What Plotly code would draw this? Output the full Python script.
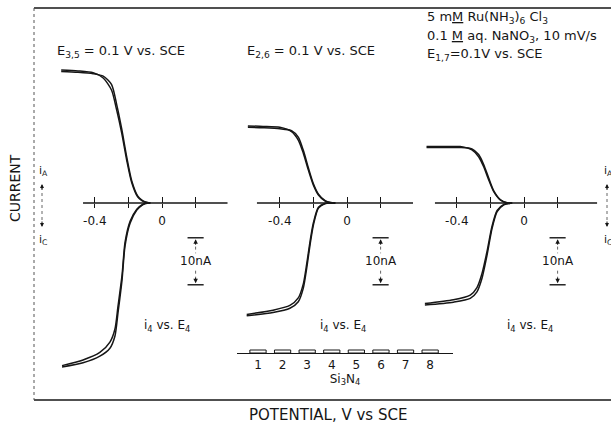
import plotly.graph_objects as go

W, H = 611, 426
FONT = "DejaVu Sans"
INK = "#161616"

# Generator voltammograms (i4 vs E4): potential in V vs SCE, current in nA.
# Each branch carries two sweeps (forward / reverse).
P1_AN_E = [-0.60, -0.50, -0.41, -0.35, -0.30, -0.27, -0.24, -0.21, -0.18, -0.145, -0.12, -0.10, -0.07]
P1_AN_I_FWD = [28.3, 28.1, 27.7, 26.6, 24.0, 19.8, 14.9, 9.1, 4.3, 1.3, 0.5, 0.2, 0.0]
P1_AN_I_REV = [28.0, 27.8, 27.5, 27.0, 25.2, 21.0, 15.8, 9.8, 4.7, 1.5, 0.6, 0.2, 0.0]
P1_CA_E = [-0.595, -0.47, -0.37, -0.31, -0.28, -0.262, -0.238, -0.22, -0.19, -0.15, -0.12, -0.10, -0.07]
P1_CA_I_FWD = [-34.9, -34.0, -32.6, -30.9, -28.3, -23.4, -16.4, -9.1, -4.3, -1.5, -0.5, -0.1, 0.0]
P1_CA_I_REV = [-34.6, -33.4, -31.8, -29.6, -26.8, -22.0, -15.4, -8.4, -3.9, -1.3, -0.4, -0.1, 0.0]

P2_AN_E = [-0.59, -0.50, -0.40, -0.33, -0.29, -0.26, -0.23, -0.20, -0.17, -0.13, -0.10, -0.07]
P2_AN_I_FWD = [16.4, 16.3, 16.1, 15.2, 13.4, 10.6, 7.0, 3.8, 1.7, 0.4, 0.1, 0.0]
P2_AN_I_REV = [16.1, 16.0, 15.8, 15.4, 14.0, 11.2, 7.5, 4.1, 1.9, 0.5, 0.1, 0.0]
P2_CA_E = [-0.597, -0.44, -0.34, -0.29, -0.26, -0.24, -0.22, -0.20, -0.17, -0.13, -0.10, -0.07]
P2_CA_I_FWD = [-24.0, -23.3, -22.4, -21.0, -18.1, -13.9, -8.9, -4.7, -1.1, -0.1, 0.0, 0.0]
P2_CA_I_REV = [-23.7, -22.8, -21.8, -20.2, -17.2, -13.0, -8.2, -4.2, -0.9, -0.1, 0.0, 0.0]

P3_AN_E = [-0.58, -0.48, -0.38, -0.31, -0.27, -0.24, -0.21, -0.18, -0.14, -0.10, -0.07]
P3_AN_I_FWD = [12.0, 12.0, 12.0, 11.3, 9.85, 7.7, 4.9, 2.4, 0.6, 0.0, 0.0]
P3_AN_I_REV = [11.8, 11.8, 11.8, 11.5, 10.3, 8.2, 5.3, 2.6, 0.7, 0.05, 0.0]
P3_CA_E = [-0.59, -0.42, -0.32, -0.28, -0.25, -0.22, -0.19, -0.16, -0.12, -0.08]
P3_CA_I_FWD = [-21.7, -21.1, -20.3, -18.9, -16.0, -11.1, -5.4, -1.85, -0.4, -0.06]
P3_CA_I_REV = [-21.4, -20.6, -19.6, -18.0, -15.0, -10.3, -4.9, -1.6, -0.3, -0.05]

PANEL_LABELS = ["E<sub>3,5</sub> = 0.1 V vs. SCE",
                "E<sub>2,6</sub> = 0.1 V vs. SCE",
                "E<sub>1,7</sub>=0.1V vs. SCE"]
CONDITIONS = ["5 m<u>M</u> Ru(NH<sub>3</sub>)<sub>6</sub> Cl<sub>3</sub>",
              "0.1 <u>M</u> aq. NaNO<sub>3</sub>, 10 mV/s"]
TICK_VALUES = [-0.4, -0.2, 0.0, 0.2]
TICK_TEXT = ["-0.4", "", "0", ""]
SCALE_NA = 10
SCALE_TOP_NA = -7.4
ELECTRODES = ["1", "2", "3", "4", "5", "6", "7", "8"]

PANELS = [
    (P1_AN_E, (P1_AN_I_FWD, P1_AN_I_REV), P1_CA_E, (P1_CA_I_FWD, P1_CA_I_REV)),
    (P2_AN_E, (P2_AN_I_FWD, P2_AN_I_REV), P2_CA_E, (P2_CA_I_FWD, P2_CA_I_REV)),
    (P3_AN_E, (P3_AN_I_FWD, P3_AN_I_REV), P3_CA_E, (P3_CA_I_FWD, P3_CA_I_REV)),
]

# ---- page geometry (pixels) ----
ZERO_PX = [162, 347, 524]                       # x pixel of E = 0 in each panel
DOMAIN_PX = [(55, 236), (240, 421), (423, 608)]
AXIS_SPAN = [(-0.47, 0.39), (-0.536, 0.393), (-0.53, 0.435)]
PX_PER_V = 168
ZERO_I_PX = 203                                 # y pixel of i = 0
PX_PER_NA = 4.7
LABEL_PX = [(55, 52), (245, 52), (425, 55)]
SUBTITLE_X = [0.03, -0.024, 0.036]


def fx(px):
    return px / W


def fy(py):
    return 1 - py / H


def paper_text(xp, yp, text, size=13, xanchor="center", **kw):
    return dict(x=fx(xp), y=fy(yp), xref="paper", yref="paper", text=text, showarrow=False,
                xanchor=xanchor, yanchor="middle", font=dict(size=size), **kw)


y_range = [-(H - ZERO_I_PX) / PX_PER_NA, ZERO_I_PX / PX_PER_NA]
axis_pos = fy(ZERO_I_PX)

fig = go.Figure()
layout_axes = {}
annotations = []

curve_line = dict(color=INK, width=1.5, shape="spline", smoothing=0.7)

for k, (an_e, an_i, ca_e, ca_i) in enumerate(PANELS):
    xa = "x" if k == 0 else f"x{k + 1}"
    xo = f"x{k + 4}"
    for e, sweeps in ((an_e, an_i), (ca_e, ca_i)):
        for i_vals in sweeps:
            fig.add_trace(go.Scatter(x=e, y=i_vals, mode="lines", line=curve_line,
                                     xaxis=xa, yaxis="y", hoverinfo="skip", showlegend=False))
    # zero-current potential axis
    fig.add_trace(go.Scatter(x=list(AXIS_SPAN[k]), y=[0, 0], mode="lines",
                             line=dict(color=INK, width=1.4),
                             xaxis=xo, yaxis="y", hoverinfo="skip", showlegend=False))
    # 10 nA scale bar
    bot = SCALE_TOP_NA - SCALE_NA
    fig.add_trace(go.Scatter(x=[0.152, 0.248, None, 0.152, 0.248],
                             y=[SCALE_TOP_NA, SCALE_TOP_NA, None, bot, bot],
                             mode="lines", line=dict(color=INK, width=1.4),
                             xaxis=xa, yaxis="y", hoverinfo="skip", showlegend=False))
    fig.add_trace(go.Scatter(x=[0.2, 0.2, None, 0.2, 0.2],
                             y=[SCALE_TOP_NA - 0.6, SCALE_TOP_NA - 3.3, None, bot + 3.0, bot + 0.6],
                             mode="lines", line=dict(color="#555", width=0.9, dash="dot"),
                             xaxis=xa, yaxis="y", hoverinfo="skip", showlegend=False))
    ref = xa
    annotations += [
        dict(x=0.2, y=SCALE_TOP_NA - 0.3, xref=ref, yref="y", text="", showarrow=True,
             ax=0, ay=7, arrowhead=2, arrowsize=0.9, arrowwidth=1, arrowcolor=INK),
        dict(x=0.2, y=bot + 0.3, xref=ref, yref="y", text="", showarrow=True,
             ax=0, ay=-7, arrowhead=2, arrowsize=0.9, arrowwidth=1, arrowcolor=INK),
        dict(x=0.2, y=SCALE_TOP_NA - SCALE_NA / 2, xref=ref, yref="y", yanchor="middle",
             text=f"{SCALE_NA}nA", showarrow=False, font=dict(size=12)),
        dict(x=SUBTITLE_X[k], y=(ZERO_I_PX - 326) / PX_PER_NA, xref=ref, yref="y",
             yanchor="middle", text="i<sub>4</sub> vs. E<sub>4</sub>", showarrow=False,
             font=dict(size=12)),
        paper_text(LABEL_PX[k][0], LABEL_PX[k][1], PANEL_LABELS[k], xanchor="left"),
    ]

    z = ZERO_PX[k]
    d0, d1 = DOMAIN_PX[k]
    rng = [(d0 - z) / PX_PER_V, (d1 - z) / PX_PER_V]
    name = "xaxis" if k == 0 else f"xaxis{k + 1}"
    layout_axes[name] = dict(domain=[fx(d0), fx(d1)], range=rng, anchor="free", position=axis_pos,
                             tickvals=TICK_VALUES, ticktext=TICK_TEXT, ticks="outside",
                             ticklen=4, tickwidth=1.2, tickcolor=INK, ticklabelstandoff=3,
                             showline=False, showgrid=False, zeroline=False,
                             tickfont=dict(size=12, color=INK), fixedrange=True)
    layout_axes[f"xaxis{k + 4}"] = dict(overlaying=xa, range=rng, anchor="free", position=axis_pos,
                                       tickvals=TICK_VALUES, ticks="inside", ticklen=6,
                                       tickwidth=1.2, tickcolor=INK, showticklabels=False,
                                       showline=False, showgrid=False, zeroline=False)

# Si3N4 interdigitated electrode array 1..8
fig.add_trace(go.Bar(x=list(range(1, len(ELECTRODES) + 1)), y=[1] * len(ELECTRODES),
                     width=0.66, marker=dict(color="white", line=dict(color=INK, width=1)),
                     xaxis="x7", yaxis="y2", hoverinfo="skip", showlegend=False))
layout_axes["xaxis7"] = dict(domain=[fx(237), fx(453)], range=[0.146, 8.93], anchor="y2",
                             tickvals=list(range(1, len(ELECTRODES) + 1)), ticktext=ELECTRODES,
                             ticks="", showline=True, linecolor=INK, linewidth=1.4,
                             showgrid=False, zeroline=False, tickfont=dict(size=12, color=INK),
                             title=dict(text="Si<sub>3</sub>N<sub>4</sub>", standoff=2,
                                        font=dict(size=12, color=INK)))
layout_axes["yaxis2"] = dict(domain=[fy(353), fy(343)], range=[0, 10 / 3], visible=False)

# text blocks
for line, py in zip(CONDITIONS, [17, 36]):
    annotations.append(paper_text(425, py, line, xanchor="left"))
annotations += [
    paper_text(15, 188, "CURRENT", size=14, textangle=-90),
    paper_text(328, 415, "POTENTIAL, V vs SCE", size=15),
]
# anodic / cathodic direction markers at both sides
for xp in (43, 608):
    annotations += [
        paper_text(xp, 171, "i<sub>A</sub>", size=11),
        paper_text(xp, 240, "i<sub>C</sub>", size=11),
        dict(x=fx(xp - 1), y=fy(184), xref="paper", yref="paper", text="", showarrow=True,
             ax=0, ay=7, arrowhead=2, arrowsize=0.8, arrowwidth=1, arrowcolor=INK),
        dict(x=fx(xp - 1), y=fy(227), xref="paper", yref="paper", text="", showarrow=True,
             ax=0, ay=-7, arrowhead=2, arrowsize=0.8, arrowwidth=1, arrowcolor=INK),
    ]

shapes = [
    dict(type="line", xref="paper", yref="paper", x0=fx(34), x1=1.0, y0=fy(8), y1=fy(8),
         line=dict(color=INK, width=1.6)),
    dict(type="line", xref="paper", yref="paper", x0=fx(34), x1=1.0, y0=fy(400), y1=fy(400),
         line=dict(color=INK, width=1.6)),
    dict(type="line", xref="paper", yref="paper", x0=fx(34), x1=fx(34), y0=fy(8), y1=fy(400),
         line=dict(color="#555", width=1, dash="dot")),
]
for xp in (42, 607):
    shapes.append(dict(type="line", xref="paper", yref="paper", x0=fx(xp), x1=fx(xp),
                       y0=fy(187), y1=fy(224), line=dict(color="#555", width=0.9, dash="dot")))

fig.update_layout(
    width=W, height=H, margin=dict(l=0, r=0, t=0, b=0),
    paper_bgcolor="white", plot_bgcolor="rgba(0,0,0,0)",
    font=dict(family=FONT, size=12, color=INK),
    yaxis=dict(domain=[0, 1], range=y_range, visible=False, fixedrange=True),
    annotations=annotations, shapes=shapes, showlegend=False,
    **layout_axes,
)

fig.write_html("out.html")
